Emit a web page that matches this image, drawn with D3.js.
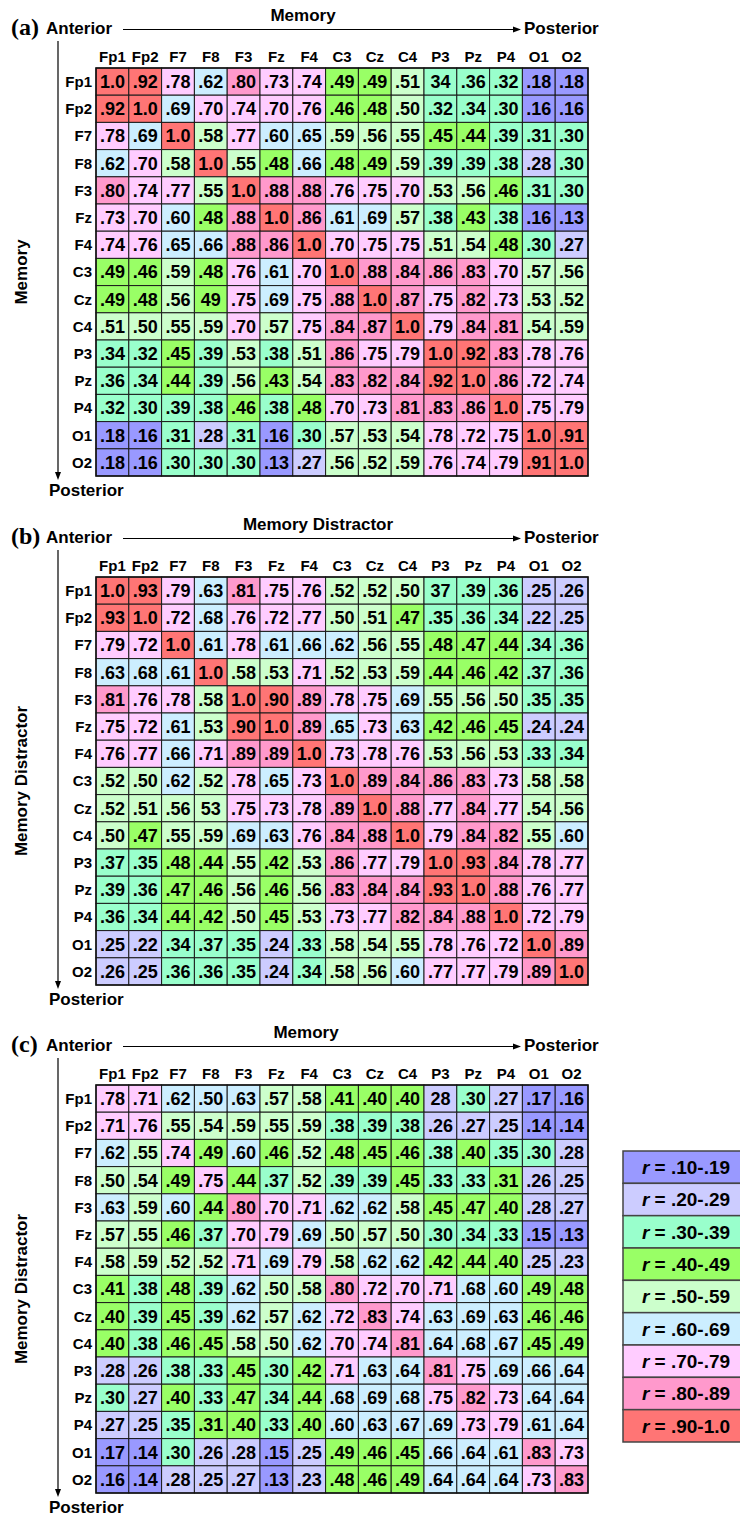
<!DOCTYPE html>
<html>
<head>
<meta charset="utf-8">
<script src="https://cdn.jsdelivr.net/npm/d3@7"></script>
<style>
  body { margin: 0; background: #fff; }
  svg { font-family: "Liberation Sans", Arial, sans-serif; font-weight: bold; }
</style>
</head>
<body>
<script>
const channels = ["Fp1", "Fp2", "F7", "F8", "F3", "Fz", "F4", "C3", "Cz", "C4", "P3", "Pz", "P4", "O1", "O2"];

// values as printed in the figure (typos kept: "34", "49", "37", "53", "28")
const memory = [
    ["1.0", ".92", ".78", ".62", ".80", ".73", ".74", ".49", ".49", ".51", "34", ".36", ".32", ".18", ".18"],
    [".92", "1.0", ".69", ".70", ".74", ".70", ".76", ".46", ".48", ".50", ".32", ".34", ".30", ".16", ".16"],
    [".78", ".69", "1.0", ".58", ".77", ".60", ".65", ".59", ".56", ".55", ".45", ".44", ".39", ".31", ".30"],
    [".62", ".70", ".58", "1.0", ".55", ".48", ".66", ".48", ".49", ".59", ".39", ".39", ".38", ".28", ".30"],
    [".80", ".74", ".77", ".55", "1.0", ".88", ".88", ".76", ".75", ".70", ".53", ".56", ".46", ".31", ".30"],
    [".73", ".70", ".60", ".48", ".88", "1.0", ".86", ".61", ".69", ".57", ".38", ".43", ".38", ".16", ".13"],
    [".74", ".76", ".65", ".66", ".88", ".86", "1.0", ".70", ".75", ".75", ".51", ".54", ".48", ".30", ".27"],
    [".49", ".46", ".59", ".48", ".76", ".61", ".70", "1.0", ".88", ".84", ".86", ".83", ".70", ".57", ".56"],
    [".49", ".48", ".56", "49", ".75", ".69", ".75", ".88", "1.0", ".87", ".75", ".82", ".73", ".53", ".52"],
    [".51", ".50", ".55", ".59", ".70", ".57", ".75", ".84", ".87", "1.0", ".79", ".84", ".81", ".54", ".59"],
    [".34", ".32", ".45", ".39", ".53", ".38", ".51", ".86", ".75", ".79", "1.0", ".92", ".83", ".78", ".76"],
    [".36", ".34", ".44", ".39", ".56", ".43", ".54", ".83", ".82", ".84", ".92", "1.0", ".86", ".72", ".74"],
    [".32", ".30", ".39", ".38", ".46", ".38", ".48", ".70", ".73", ".81", ".83", ".86", "1.0", ".75", ".79"],
    [".18", ".16", ".31", ".28", ".31", ".16", ".30", ".57", ".53", ".54", ".78", ".72", ".75", "1.0", ".91"],
    [".18", ".16", ".30", ".30", ".30", ".13", ".27", ".56", ".52", ".59", ".76", ".74", ".79", ".91", "1.0"]
];

const distractor = [
    ["1.0", ".93", ".79", ".63", ".81", ".75", ".76", ".52", ".52", ".50", "37", ".39", ".36", ".25", ".26"],
    [".93", "1.0", ".72", ".68", ".76", ".72", ".77", ".50", ".51", ".47", ".35", ".36", ".34", ".22", ".25"],
    [".79", ".72", "1.0", ".61", ".78", ".61", ".66", ".62", ".56", ".55", ".48", ".47", ".44", ".34", ".36"],
    [".63", ".68", ".61", "1.0", ".58", ".53", ".71", ".52", ".53", ".59", ".44", ".46", ".42", ".37", ".36"],
    [".81", ".76", ".78", ".58", "1.0", ".90", ".89", ".78", ".75", ".69", ".55", ".56", ".50", ".35", ".35"],
    [".75", ".72", ".61", ".53", ".90", "1.0", ".89", ".65", ".73", ".63", ".42", ".46", ".45", ".24", ".24"],
    [".76", ".77", ".66", ".71", ".89", ".89", "1.0", ".73", ".78", ".76", ".53", ".56", ".53", ".33", ".34"],
    [".52", ".50", ".62", ".52", ".78", ".65", ".73", "1.0", ".89", ".84", ".86", ".83", ".73", ".58", ".58"],
    [".52", ".51", ".56", "53", ".75", ".73", ".78", ".89", "1.0", ".88", ".77", ".84", ".77", ".54", ".56"],
    [".50", ".47", ".55", ".59", ".69", ".63", ".76", ".84", ".88", "1.0", ".79", ".84", ".82", ".55", ".60"],
    [".37", ".35", ".48", ".44", ".55", ".42", ".53", ".86", ".77", ".79", "1.0", ".93", ".84", ".78", ".77"],
    [".39", ".36", ".47", ".46", ".56", ".46", ".56", ".83", ".84", ".84", ".93", "1.0", ".88", ".76", ".77"],
    [".36", ".34", ".44", ".42", ".50", ".45", ".53", ".73", ".77", ".82", ".84", ".88", "1.0", ".72", ".79"],
    [".25", ".22", ".34", ".37", ".35", ".24", ".33", ".58", ".54", ".55", ".78", ".76", ".72", "1.0", ".89"],
    [".26", ".25", ".36", ".36", ".35", ".24", ".34", ".58", ".56", ".60", ".77", ".77", ".79", ".89", "1.0"]
];

const crossed = [
    [".78", ".71", ".62", ".50", ".63", ".57", ".58", ".41", ".40", ".40", "28", ".30", ".27", ".17", ".16"],
    [".71", ".76", ".55", ".54", ".59", ".55", ".59", ".38", ".39", ".38", ".26", ".27", ".25", ".14", ".14"],
    [".62", ".55", ".74", ".49", ".60", ".46", ".52", ".48", ".45", ".46", ".38", ".40", ".35", ".30", ".28"],
    [".50", ".54", ".49", ".75", ".44", ".37", ".52", ".39", ".39", ".45", ".33", ".33", ".31", ".26", ".25"],
    [".63", ".59", ".60", ".44", ".80", ".70", ".71", ".62", ".62", ".58", ".45", ".47", ".40", ".28", ".27"],
    [".57", ".55", ".46", ".37", ".70", ".79", ".69", ".50", ".57", ".50", ".30", ".34", ".33", ".15", ".13"],
    [".58", ".59", ".52", ".52", ".71", ".69", ".79", ".58", ".62", ".62", ".42", ".44", ".40", ".25", ".23"],
    [".41", ".38", ".48", ".39", ".62", ".50", ".58", ".80", ".72", ".70", ".71", ".68", ".60", ".49", ".48"],
    [".40", ".39", ".45", ".39", ".62", ".57", ".62", ".72", ".83", ".74", ".63", ".69", ".63", ".46", ".46"],
    [".40", ".38", ".46", ".45", ".58", ".50", ".62", ".70", ".74", ".81", ".64", ".68", ".67", ".45", ".49"],
    [".28", ".26", ".38", ".33", ".45", ".30", ".42", ".71", ".63", ".64", ".81", ".75", ".69", ".66", ".64"],
    [".30", ".27", ".40", ".33", ".47", ".34", ".44", ".68", ".69", ".68", ".75", ".82", ".73", ".64", ".64"],
    [".27", ".25", ".35", ".31", ".40", ".33", ".40", ".60", ".63", ".67", ".69", ".73", ".79", ".61", ".64"],
    [".17", ".14", ".30", ".26", ".28", ".15", ".25", ".49", ".46", ".45", ".66", ".64", ".61", ".83", ".73"],
    [".16", ".14", ".28", ".25", ".27", ".13", ".23", ".48", ".46", ".49", ".64", ".64", ".64", ".73", ".83"]
];

const panelLetters = ["(a)", "(b)", "(c)"];
const colTitles = ["Memory", "Memory Distractor", "Memory"];
const rowTitles = ["Memory", "Memory Distractor", "Memory Distractor"];

const legendLabels = [".10-.19", ".20-.29", ".30-.39", ".40-.49", ".50-.59", ".60-.69", ".70-.79", ".80-.89", ".90-1.0"];
const bandColors = ["#9999ff", "#ccccff", "#99ffcc", "#99ff66", "#ccffcc", "#cceeff", "#ffccff", "#ff99cc", "#ff7575"];

// cells whose printed colour does not follow the value
const colorOverrides = [
    { panel: 2, row: "P4", col: "F8", band: ".40-.49" },
    { panel: 2, row: "F8", col: "P4", band: ".40-.49" },
    { panel: 2, row: "Fp1", col: "F8", band: ".60-.69" }
];

const W = 740, H = 1515;
const panelTop = [0, 509, 1017];
const titleX = [303, 318, 306];

const svg = d3.select("body").append("svg")
    .attr("width", W)
    .attr("height", H);

const color = d3.scaleThreshold()
    .domain([.2, .3, .4, .5, .6, .7, .8, .9])
    .range(bandColors);

const toValue = s => s.includes(".") ? +s : +s / 100;

const x = d3.scaleBand().domain(channels).range([96, 588]);

const arrowHead = (g, pts) => g.append("path")
    .attr("d", d3.line()(pts) + "Z")
    .attr("fill", "#000");

[memory, distractor, crossed].forEach((matrix, p) => {
    const top = panelTop[p];
    const g = svg.append("g").attr("transform", `translate(0,${top})`);
    const y = d3.scaleBand().domain(channels).range([68, 476]);

    const cells = [];
    matrix.forEach((row, i) => row.forEach((txt, j) => {
        const ov = colorOverrides.find(o => o.panel === p && o.row === channels[i] && o.col === channels[j]);
        cells.push({
            row: channels[i],
            col: channels[j],
            txt,
            fill: ov ? bandColors[legendLabels.indexOf(ov.band)] : color(toValue(txt))
        });
    }));

    g.selectAll("rect.cell")
        .data(cells)
        .enter().append("rect")
        .attr("class", "cell")
        .attr("x", d => x(d.col))
        .attr("y", d => y(d.row))
        .attr("width", x.bandwidth())
        .attr("height", y.bandwidth())
        .attr("fill", d => d.fill)
        .attr("stroke", "#1a1a1a")
        .attr("stroke-width", 1);

    g.selectAll("text.val")
        .data(cells)
        .enter().append("text")
        .attr("class", "val")
        .attr("x", d => x(d.col) + x.bandwidth() / 2)
        .attr("y", d => y(d.row) + y.bandwidth() / 2)
        .attr("dy", ".36em")
        .attr("text-anchor", "middle")
        .style("font-size", "18px")
        .text(d => d.txt);

    g.append("rect")
        .attr("x", x.range()[0])
        .attr("y", y.range()[0])
        .attr("width", x.range()[1] - x.range()[0])
        .attr("height", y.range()[1] - y.range()[0])
        .attr("fill", "none")
        .attr("stroke", "#111")
        .attr("stroke-width", 1.5);

    // column and row channel labels
    g.selectAll("text.colLab")
        .data(channels)
        .enter().append("text")
        .attr("class", "colLab")
        .attr("x", d => x(d) + x.bandwidth() / 2)
        .attr("y", 62)
        .attr("text-anchor", "middle")
        .style("font-size", "15px")
        .text(d => d);

    g.selectAll("text.rowLab")
        .data(channels)
        .enter().append("text")
        .attr("class", "rowLab")
        .attr("x", 92)
        .attr("y", d => y(d) + y.bandwidth() / 2)
        .attr("dy", ".36em")
        .attr("text-anchor", "end")
        .style("font-size", "15px")
        .text(d => d);

    // header: letter, Anterior ---> Posterior, title
    g.append("text")
        .attr("x", 11)
        .attr("y", 35)
        .style("font-family", "'Liberation Serif', 'Times New Roman', serif")
        .style("font-size", "24px")
        .text(panelLetters[p]);

    g.append("text")
        .attr("x", 46)
        .attr("y", 34)
        .style("font-size", "17px")
        .text("Anterior");

    g.append("text")
        .attr("x", 524)
        .attr("y", 34)
        .style("font-size", "17px")
        .text("Posterior");

    g.append("line")
        .attr("x1", 123).attr("x2", 514)
        .attr("y1", 29.5).attr("y2", 29.5)
        .attr("stroke", "#000")
        .attr("stroke-width", 1.2);
    arrowHead(g, [[513, 26.5], [521, 29.5], [513, 32.5]]);

    g.append("text")
        .attr("x", titleX[p])
        .attr("y", 21)
        .attr("text-anchor", "middle")
        .style("font-size", "17px")
        .text(colTitles[p]);

    // left vertical arrow
    g.append("line")
        .attr("x1", 58).attr("x2", 58)
        .attr("y1", 41).attr("y2", 473)
        .attr("stroke", "#000")
        .attr("stroke-width", 1.2);
    arrowHead(g, [[55, 472], [58, 480], [61, 472]]);

    g.append("text")
        .attr("x", 49)
        .attr("y", 496)
        .style("font-size", "17px")
        .text("Posterior");

    g.append("text")
        .attr("transform", `translate(27,272) rotate(-90)`)
        .attr("text-anchor", "middle")
        .style("font-size", "17px")
        .text(rowTitles[p]);
});

// legend
const ly = d3.scaleBand().domain(legendLabels).range([1151, 1442]);

const legend = svg.selectAll(".legend")
    .data(legendLabels)
    .enter().append("g")
    .attr("class", "legend")
    .attr("transform", d => `translate(623,${ly(d)})`);

legend.append("rect")
    .attr("width", 130)
    .attr("height", ly.bandwidth())
    .attr("fill", (d, i) => bandColors[i])
    .attr("stroke", "#444")
    .attr("stroke-width", 1.5);

const lt = legend.append("text")
    .attr("x", 63)
    .attr("y", ly.bandwidth() / 2)
    .attr("dy", ".36em")
    .attr("text-anchor", "middle")
    .style("font-size", "19px");
lt.append("tspan").style("font-style", "italic").text("r");
lt.append("tspan").text(d => " = " + d);
</script>
</body>
</html>
